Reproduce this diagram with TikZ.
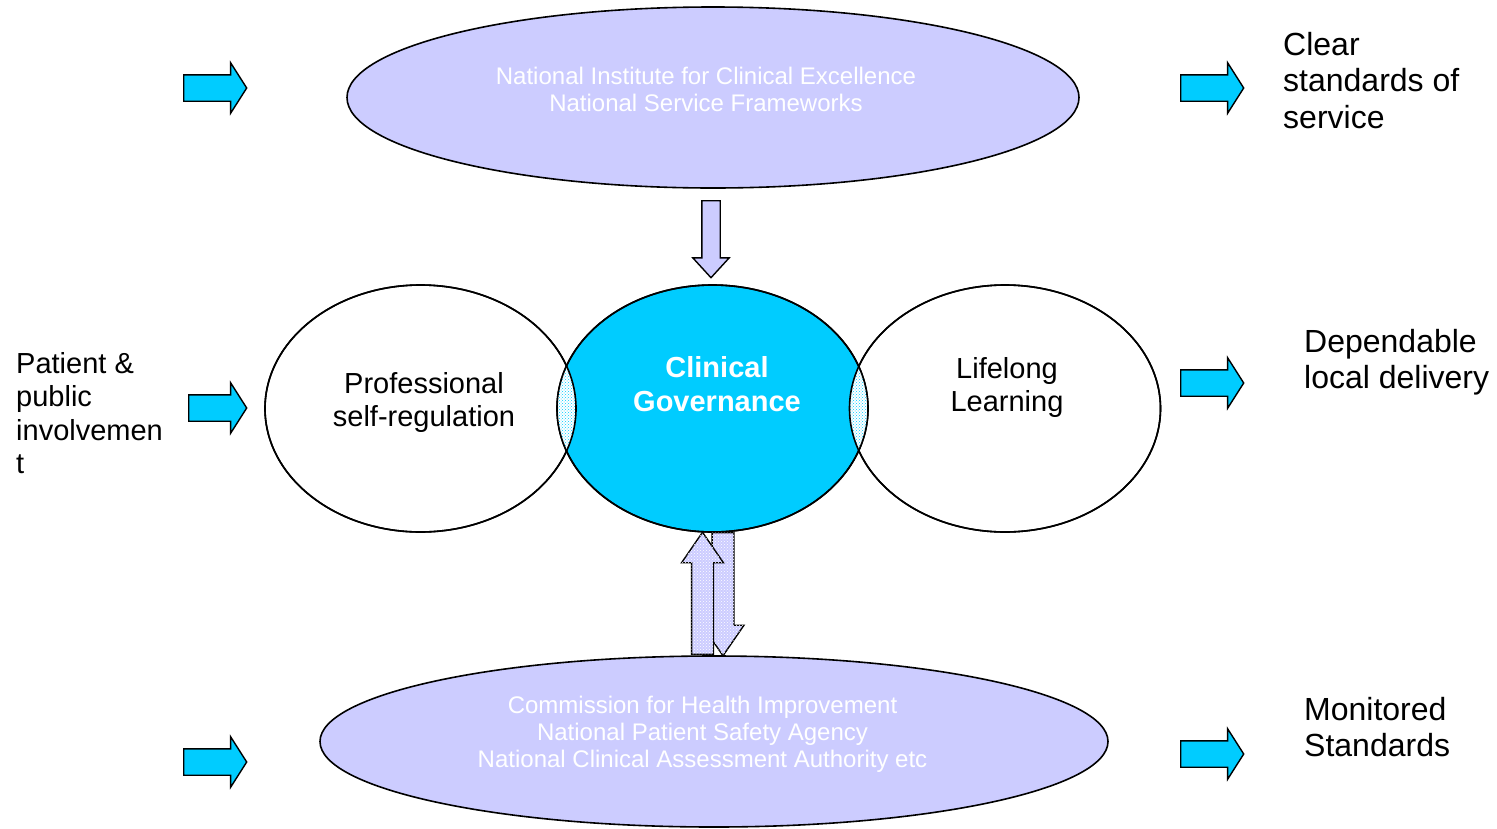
\documentclass[tikz,border=0pt]{standalone}
\usepackage{fontspec}
\setmainfont{Liberation Sans}
\usetikzlibrary{shapes.geometric,shapes.arrows,patterns}
\definecolor{lav}{HTML}{CCCCFF}
\definecolor{cgcyan}{HTML}{00CCFF}
\begin{document}
\begin{tikzpicture}[x=1pt,y=-1pt,
  bigell/.style={ellipse, draw=black, line width=1.6pt, fill=lav, inner sep=0pt},
  circ/.style={ellipse, draw=black, line width=1.6pt, inner sep=0pt, minimum width=311pt, minimum height=247pt},
  whitetxt/.style={text=white, font=\fontsize{24}{27}\selectfont, align=center, inner sep=0pt, anchor=north},
  blacktxt/.style={font=\fontsize{29}{33.5}\selectfont, align=center, inner sep=0pt, anchor=north},
  sidetxt/.style={font=\fontsize{32}{36.5}\selectfont, align=left, inner sep=0pt, anchor=north west},
  cyanarrow/.style={single arrow, draw=black, line width=1.4pt, fill=cgcyan, minimum height=63pt,
    inner xsep=0pt, inner ysep=12.5pt, single arrow head extend=12pt, single arrow tip angle=115, anchor=tail},
  lavarrow/.style={single arrow, draw=black, line width=1.4pt, fill=lav, anchor=tail},
]
\useasboundingbox (0,0) rectangle (1497,828);

% top and bottom ellipses
\node[bigell, minimum width=732pt, minimum height=181pt] (nice) at (713,97.5) {};
\node[bigell, minimum width=788pt, minimum height=171pt] (chi) at (714,741.5) {};

% middle circles
\node[circ, fill=white] (psr) at (420.5,408.5) {};
\node[circ, fill=white] (ll) at (1005,408.5) {};
\node[circ, fill=cgcyan] (cg) at (712.5,408.5) {};

% lenses
\begin{scope}
  \clip (psr.center) ellipse [x radius=155.5pt, y radius=123.5pt];
  \fill[white] (cg.center) ellipse [x radius=155.5pt, y radius=123.5pt];
  \fill[pattern=crosshatch dots, pattern color=cgcyan] (cg.center) ellipse [x radius=155.5pt, y radius=123.5pt];
\end{scope}
\begin{scope}
  \clip (ll.center) ellipse [x radius=155.5pt, y radius=123.5pt];
  \fill[white] (cg.center) ellipse [x radius=155.5pt, y radius=123.5pt];
  \fill[pattern=crosshatch dots, pattern color=cgcyan] (cg.center) ellipse [x radius=155.5pt, y radius=123.5pt];
\end{scope}
\draw[line width=1.6pt] (psr.center) ellipse [x radius=155.5pt, y radius=123.5pt];
\draw[line width=1.6pt] (ll.center) ellipse [x radius=155.5pt, y radius=123.5pt];
\draw[line width=1.6pt] (cg.center) ellipse [x radius=155.5pt, y radius=123.5pt];

% texts
\node[whitetxt] (nicetxt) at (706,67) {National Institute for Clinical Excellence\\National Service Frameworks};
\node[whitetxt] (chitxt) at (702.5,696) {Commission for Health Improvement\\National Patient Safety Agency\\National Clinical Assessment Authority etc};
\node[blacktxt, font=\bfseries\fontsize{29}{34}\selectfont, text=white] (cgtxt) at (717,356) {Clinical\\Governance};
\node[blacktxt, font=\fontsize{29}{33}\selectfont] (psrtxt) at (424,372) {Professional\\self-regulation};
\node[blacktxt, font=\fontsize{29}{33}\selectfont] (lltxt) at (1007,357) {Lifelong\\Learning};
\node[sidetxt, font=\fontsize{29}{33.5}\selectfont] (pat) at (16,352) {Patient \&\\public\\involvemen\\t};
\node[sidetxt] (clear) at (1283,32) {Clear\\standards of\\service};
\node[sidetxt] (dep) at (1304,329) {Dependable\\local delivery};
\node[sidetxt] (mon) at (1304,697) {Monitored\\Standards};

% lavender arrows
\node[lavarrow, shape border rotate=270, minimum height=77pt, inner sep=8.5pt,
  single arrow head extend=9pt, single arrow tip angle=85] (adown) at (711,200) {};
\node[lavarrow, shape border rotate=270, minimum height=123pt, inner sep=10.25pt,
  single arrow head extend=10pt, single arrow tip angle=69,
  postaction={pattern=crosshatch dots, pattern color=white}] (bdown) at (723,532) {};
\node[lavarrow, shape border rotate=90, minimum height=122pt, inner sep=10.25pt,
  single arrow head extend=10pt, single arrow tip angle=69,
  postaction={pattern=crosshatch dots, pattern color=white}] (bup) at (702.5,655) {};

% cyan arrows
\node[cyanarrow] (l1) at (183,88) {};
\node[cyanarrow, minimum height=58pt] (l2) at (188,408) {};
\node[cyanarrow] (l3) at (183,762) {};
\node[cyanarrow] (r1) at (1180,88) {};
\node[cyanarrow] (r2) at (1180,383) {};
\node[cyanarrow] (r3) at (1180,754) {};
\end{tikzpicture}
\end{document}
